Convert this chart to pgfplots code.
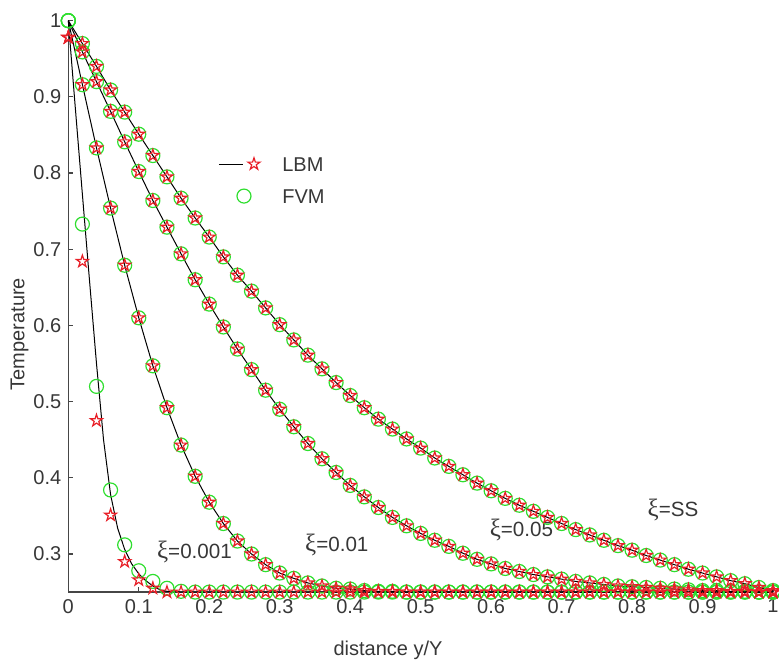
\documentclass[border=0pt]{standalone}
\usepackage{fontspec}
\setmainfont{Liberation Sans}
\newfontfamily\xifont{Liberation Serif}
\usepackage{pgfplots}
\usepackage{pgfplotstable}
\pgfplotsset{compat=1.18}
\definecolor{lbmred}{RGB}{232,32,40}
\definecolor{fvmgreen}{RGB}{46,222,46}
\definecolor{axgray}{RGB}{70,70,70}
\definecolor{txtgray}{RGB}{55,55,55}
\newcommand{\xisym}{{\xifont\fontsize{12.5}{12}\selectfont ξ}}
\pgfdeclareplotmark{pentagram}{%
  \pgfpathmoveto{\pgfpointpolar{90}{\pgfplotmarksize}}%
  \pgfpathlineto{\pgfpointpolar{126}{0.382\pgfplotmarksize}}%
  \pgfpathlineto{\pgfpointpolar{162}{\pgfplotmarksize}}%
  \pgfpathlineto{\pgfpointpolar{198}{0.382\pgfplotmarksize}}%
  \pgfpathlineto{\pgfpointpolar{234}{\pgfplotmarksize}}%
  \pgfpathlineto{\pgfpointpolar{270}{0.382\pgfplotmarksize}}%
  \pgfpathlineto{\pgfpointpolar{306}{\pgfplotmarksize}}%
  \pgfpathlineto{\pgfpointpolar{342}{0.382\pgfplotmarksize}}%
  \pgfpathlineto{\pgfpointpolar{18}{\pgfplotmarksize}}%
  \pgfpathlineto{\pgfpointpolar{54}{0.382\pgfplotmarksize}}%
  \pgfpathclose
  \pgfusepathqstroke
}
% xi = 0.001
\pgfplotstableread{
x L F
0.00 0.978 1.000
0.02 0.684 0.733
0.04 0.475 0.520
0.06 0.351 0.384
0.08 0.290 0.312
0.10 0.266 0.278
0.12 0.255 0.264
0.14 0.250 0.255
0.16 0.250 0.251
0.18 0.250 0.250
0.20 0.250 0.250
0.22 0.250 0.250
0.24 0.250 0.250
0.26 0.250 0.250
0.28 0.250 0.250
0.30 0.250 0.250
0.32 0.250 0.250
0.34 0.250 0.250
0.36 0.250 0.250
0.38 0.250 0.250
0.40 0.250 0.250
0.42 0.250 0.250
0.44 0.250 0.250
0.46 0.250 0.250
0.48 0.250 0.250
0.50 0.250 0.250
0.52 0.250 0.250
0.54 0.250 0.250
0.56 0.250 0.250
0.58 0.250 0.250
0.60 0.250 0.250
0.62 0.250 0.250
0.64 0.250 0.250
0.66 0.250 0.250
0.68 0.250 0.250
0.70 0.250 0.250
0.72 0.250 0.250
0.74 0.250 0.250
0.76 0.250 0.250
0.78 0.250 0.250
0.80 0.250 0.250
0.82 0.250 0.250
0.84 0.250 0.250
0.86 0.250 0.250
0.88 0.250 0.250
0.90 0.250 0.250
0.92 0.250 0.250
0.94 0.250 0.250
0.96 0.250 0.250
0.98 0.250 0.250
1.00 0.250 0.250
}\Ta
\pgfplotstableread{
x T
0.00 1.000
0.01 0.885
0.02 0.772
0.03 0.660
0.04 0.550
0.05 0.450
0.06 0.378
0.07 0.334
0.08 0.306
0.09 0.287
0.10 0.274
0.11 0.265
0.12 0.258
0.13 0.253
0.14 0.251
0.16 0.250
1.00 0.250
}\La
% xi = 0.01
\pgfplotstableread{
x L F
0.00 0.978 1.000
0.02 0.916 0.916
0.04 0.833 0.833
0.06 0.754 0.754
0.08 0.679 0.679
0.10 0.610 0.610
0.12 0.547 0.547
0.14 0.492 0.492
0.16 0.443 0.443
0.18 0.402 0.402
0.20 0.368 0.368
0.22 0.340 0.340
0.24 0.317 0.317
0.26 0.300 0.300
0.28 0.286 0.286
0.30 0.275 0.275
0.32 0.268 0.268
0.34 0.262 0.262
0.36 0.258 0.258
0.38 0.255 0.255
0.40 0.254 0.254
0.42 0.252 0.252
0.44 0.251 0.251
0.46 0.251 0.251
0.48 0.250 0.250
0.50 0.250 0.250
0.52 0.250 0.250
0.54 0.250 0.250
0.56 0.250 0.250
0.58 0.250 0.250
0.60 0.250 0.250
0.62 0.250 0.250
0.64 0.250 0.250
0.66 0.250 0.250
0.68 0.250 0.250
0.70 0.250 0.250
0.72 0.250 0.250
0.74 0.250 0.250
0.76 0.250 0.250
0.78 0.250 0.250
0.80 0.250 0.250
0.82 0.250 0.250
0.84 0.250 0.250
0.86 0.250 0.250
0.88 0.250 0.250
0.90 0.250 0.250
0.92 0.250 0.250
0.94 0.250 0.250
0.96 0.250 0.250
0.98 0.250 0.250
1.00 0.250 0.250
}\Tb
% xi = 0.05
\pgfplotstableread{
x L F
0.00 0.978 1.000
0.02 0.959 0.959
0.04 0.920 0.920
0.06 0.881 0.881
0.08 0.841 0.841
0.10 0.802 0.802
0.12 0.764 0.764
0.14 0.729 0.729
0.16 0.694 0.694
0.18 0.660 0.660
0.20 0.628 0.628
0.22 0.598 0.598
0.24 0.569 0.569
0.26 0.542 0.542
0.28 0.515 0.515
0.30 0.490 0.490
0.32 0.467 0.467
0.34 0.445 0.445
0.36 0.425 0.425
0.38 0.407 0.407
0.40 0.390 0.390
0.42 0.375 0.375
0.44 0.361 0.361
0.46 0.348 0.348
0.48 0.337 0.337
0.50 0.327 0.327
0.52 0.318 0.318
0.54 0.310 0.310
0.56 0.301 0.301
0.58 0.293 0.293
0.60 0.287 0.287
0.62 0.281 0.281
0.64 0.277 0.277
0.66 0.273 0.273
0.68 0.270 0.270
0.70 0.267 0.267
0.72 0.264 0.264
0.74 0.262 0.262
0.76 0.260 0.260
0.78 0.258 0.258
0.80 0.257 0.257
0.82 0.256 0.256
0.84 0.255 0.255
0.86 0.254 0.254
0.88 0.253 0.253
0.90 0.252 0.252
0.92 0.252 0.252
0.94 0.251 0.251
0.96 0.251 0.251
0.98 0.250 0.250
1.00 0.250 0.250
}\Tc
% steady state
\pgfplotstableread{
x L F
0.00 0.978 1.000
0.02 0.970 0.970
0.04 0.940 0.940
0.06 0.909 0.909
0.08 0.880 0.880
0.10 0.851 0.851
0.12 0.823 0.823
0.14 0.795 0.795
0.16 0.767 0.767
0.18 0.741 0.741
0.20 0.716 0.716
0.22 0.690 0.690
0.24 0.666 0.666
0.26 0.645 0.645
0.28 0.623 0.623
0.30 0.601 0.601
0.32 0.581 0.581
0.34 0.561 0.561
0.36 0.543 0.543
0.38 0.525 0.525
0.40 0.508 0.508
0.42 0.492 0.492
0.44 0.477 0.477
0.46 0.464 0.464
0.48 0.451 0.451
0.50 0.439 0.439
0.52 0.426 0.426
0.54 0.415 0.415
0.56 0.404 0.404
0.58 0.393 0.393
0.60 0.383 0.383
0.62 0.373 0.373
0.64 0.364 0.364
0.66 0.356 0.356
0.68 0.348 0.348
0.70 0.340 0.340
0.72 0.332 0.332
0.74 0.325 0.325
0.76 0.318 0.318
0.78 0.311 0.311
0.80 0.305 0.305
0.82 0.298 0.298
0.84 0.292 0.292
0.86 0.286 0.286
0.88 0.280 0.280
0.90 0.275 0.275
0.92 0.270 0.270
0.94 0.265 0.265
0.96 0.261 0.261
0.98 0.256 0.256
1.00 0.252 0.252
}\Td
\begin{document}
\begin{tikzpicture}
\begin{axis}[
  scale only axis, width=352.35pt, height=285.7pt,
  xmin=0, xmax=1, ymin=0.25, ymax=1,
  axis lines=left,
  axis line style={-, draw=axgray, line width=0.8pt},
  xtick={0,0.1,0.2,0.3,0.4,0.5,0.6,0.7,0.8,0.9,1},
  ytick={0.3,0.4,0.5,0.6,0.7,0.8,0.9,1},
  tick align=inside, major tick length=2.5pt,
  tick style={axgray, line width=0.6pt},
  clip=false,
  /pgf/number format/assume math mode=true,
  tick label style={font=\fontsize{10}{12}\selectfont, text=txtgray},
  label style={font=\fontsize{10}{12}\selectfont, text=txtgray},
  xlabel={distance y/Y}, ylabel={Temperature},
  xlabel style={at={(axis description cs:0.4537,-0.1015)}, anchor=center},
  ylabel style={at={(axis description cs:-0.0692,0.4515)}, anchor=center},
  legend cell align=left,
  legend style={at={(axis description cs:0.2131,0.7622)}, anchor=north west,
    draw=none, fill=none, inner sep=0pt, outer sep=0pt, row sep=8.5pt,
    /tikz/column sep=0pt,
    nodes={inner sep=0pt, text height=7.5pt, text depth=0pt, text=txtgray,
      font=\fontsize{10}{12}\selectfont}},
]
\addlegendimage{legend image code/.code={
  \draw[black,line width=0.5pt] (0pt,0pt)--(12pt,0pt);
  \draw[lbmred,line width=0.6pt] plot[mark=pentagram,mark size=3.15pt,only marks] coordinates{(17.5pt,0pt)};
  \path (31.5pt,0pt);}}
\addlegendentry{LBM}
\addlegendimage{legend image code/.code={
  \draw[fvmgreen,line width=0.6pt] plot[mark=o,mark size=3.5pt,only marks] coordinates{(12.5pt,0pt)};
  \path (0pt,0pt) (31.5pt,0pt);}}
\addlegendentry{FVM}

% FVM circles
\addplot[forget plot, only marks, mark=o, mark size=3.5pt, mark options={draw=fvmgreen, line width=0.6pt}] table[x=x,y=F]{\Ta};
\addplot[forget plot, only marks, mark=o, mark size=3.5pt, mark options={draw=fvmgreen, line width=0.6pt}] table[x=x,y=F]{\Tb};
\addplot[forget plot, only marks, mark=o, mark size=3.5pt, mark options={draw=fvmgreen, line width=0.6pt}] table[x=x,y=F]{\Tc};
\addplot[forget plot, only marks, mark=o, mark size=3.5pt, mark options={draw=fvmgreen, line width=0.6pt}] table[x=x,y=F]{\Td};
% LBM stars
\addplot[forget plot, only marks, mark=pentagram, mark size=3.15pt, lbmred, mark options={line width=0.6pt}] table[x=x,y=L]{\Ta};
\addplot[forget plot, only marks, mark=pentagram, mark size=3.15pt, lbmred, mark options={line width=0.6pt}] table[x=x,y=L]{\Tb};
\addplot[forget plot, only marks, mark=pentagram, mark size=3.15pt, lbmred, mark options={line width=0.6pt}] table[x=x,y=L]{\Tc};
\addplot[forget plot, only marks, mark=pentagram, mark size=3.15pt, lbmred, mark options={line width=0.6pt}] table[x=x,y=L]{\Td};
% lines
\addplot[forget plot, black, line width=0.5pt, no marks] table[x=x,y=T]{\La};
\addplot[forget plot, black, line width=0.5pt, no marks] table[x=x,y=F]{\Tb};
\addplot[forget plot, black, line width=0.5pt, no marks] table[x=x,y=F]{\Tc};
\addplot[forget plot, black, line width=0.5pt, no marks] table[x=x,y=F]{\Td};

\node[font=\fontsize{10.3}{12}\selectfont, text=txtgray] at (axis cs:0.179,0.3027) {\xisym=0.001};
\node[font=\fontsize{10.3}{12}\selectfont, text=txtgray] at (axis cs:0.381,0.312) {\xisym=0.01};
\node[font=\fontsize{10.3}{12}\selectfont, text=txtgray] at (axis cs:0.643,0.332) {\xisym=0.05};
\node[font=\fontsize{10.3}{12}\selectfont, text=txtgray] at (axis cs:0.858,0.358) {\xisym=SS};
\end{axis}
\pgfresetboundingbox
\path[use as bounding box] ([xshift=-34.15pt,yshift=-36pt]current axis.south west) rectangle ([xshift=3pt,yshift=10.35pt]current axis.north east);
\end{tikzpicture}
\end{document}
